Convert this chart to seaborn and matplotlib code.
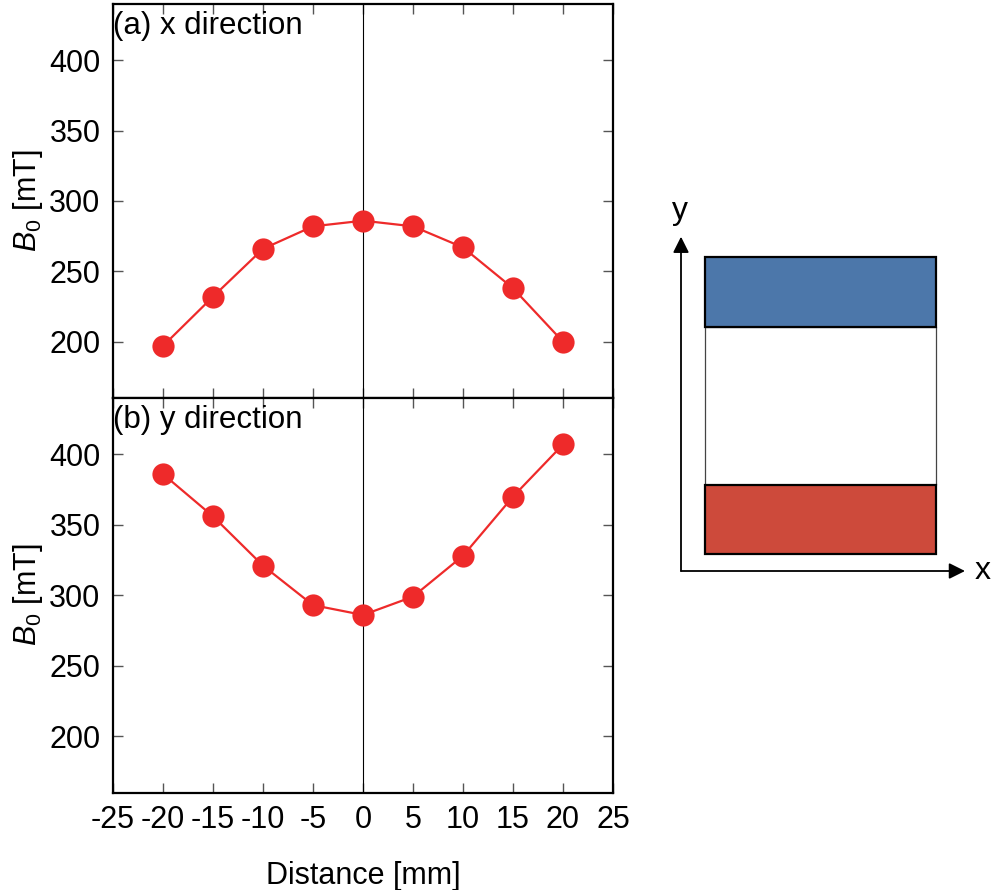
import numpy as np
import pandas as pd
import seaborn as sns
import matplotlib.pyplot as plt

# Measured field along the two directions
distance_mm = [-20, -15, -10, -5, 0, 5, 10, 15, 20]
b0_x_mT = [197, 232, 266, 282, 286, 282, 267, 238, 200]
b0_y_mT = [386, 356, 321, 293, 286, 299, 328, 370, 407]

x_ticks = [-25, -20, -15, -10, -5, 0, 5, 10, 15, 20, 25]
y_ticks = [200, 250, 300, 350, 400]
panel_titles = ["(a) x direction", "(b) y direction"]

# Magnet cross-section layers (bottom to top)
layer_heights = [69, 158, 70]
layer_colors = ["#CD4A3B", "#FFFFFF", "#4C77AA"]

sns.set_style("ticks")
plt.rcParams["font.family"] = ["Liberation Sans", "DejaVu Sans"]
plt.rcParams["mathtext.fontset"] = "custom"
plt.rcParams["mathtext.rm"] = "Liberation Sans"
plt.rcParams["mathtext.it"] = "Liberation Sans:italic"
for key in ["text.color", "axes.labelcolor", "xtick.labelcolor", "ytick.labelcolor"]:
    plt.rcParams[key] = "black"

FS = 22
RED = "#EE2A2A"

fig = plt.figure(figsize=(9.95, 8.9), dpi=100)
left, width = 113 / 995, 500 / 995
ax_top = fig.add_axes([left, 1 - 398 / 890, width, 394 / 890])
ax_bot = fig.add_axes([left, 1 - 792.5 / 890, width, 394.5 / 890], sharex=ax_top)

for ax, vals, title in [(ax_top, b0_x_mT, panel_titles[0]),
                        (ax_bot, b0_y_mT, panel_titles[1])]:
    df = pd.DataFrame({"d": distance_mm, "b": vals})
    ax.axvline(0, color="black", lw=0.8, zorder=1)
    sns.lineplot(data=df, x="d", y="b", ax=ax, color=RED, lw=1.6,
                 marker="o", markersize=16, markeredgewidth=0, zorder=3)
    ax.set_xlim(-25, 25)
    ax.set_ylim(160, 440)
    ax.set_xticks(x_ticks)
    ax.set_yticks(y_ticks)
    ax.tick_params(direction="in", length=7.5, width=1, color="#555555",
                   labelcolor="black", top=True, right=True, labelsize=FS, pad=9)
    for sp in ax.spines.values():
        sp.set_linewidth(1.6)
        sp.set_color("black")
    ax.set_ylabel(r"$B_0$ [mT]", fontsize=FS, labelpad=3, color="black")
    ax.set_xlabel("")
    ax.annotate(title, xy=(0, 1), xycoords="axes fraction", xytext=(0, -5),
                textcoords="offset points", ha="left", va="top", fontsize=FS + 0.5,
                color="black")

ax_top.tick_params(labelbottom=False)
ax_bot.set_xticklabels([str(t) for t in x_ticks])
ax_bot.set_xlabel("Distance [mm]", fontsize=FS, labelpad=19, color="black")

# Schematic of the magnet with coordinate axes
ax_s = fig.add_axes([681 / 995, 1 - 571 / 890, 284 / 995, 334.3 / 890])
ax_s.set_xlim(0, 284)
ax_s.set_ylim(0, 334.3)
ax_s.axis("off")
bottoms = np.concatenate([[16.7], 16.7 + np.cumsum(layer_heights)[:-1]])
for h, b, c in zip(layer_heights, bottoms, layer_colors):
    edge_lw = 0.9 if c == "#FFFFFF" else 1.6
    edge_c = "#444444" if c == "#FFFFFF" else "black"
    ax_s.bar(139.5, h, bottom=b, width=231, color=c, edgecolor=edge_c,
             linewidth=edge_lw, zorder=2 if c == "#FFFFFF" else 3)
arrow = dict(arrowstyle="-|>", lw=1.3, color="black", mutation_scale=24,
             shrinkA=0, shrinkB=0)
ax_s.annotate("", xy=(1, 0), xytext=(0, 0), xycoords="axes fraction",
              textcoords="axes fraction", arrowprops=arrow, annotation_clip=False)
ax_s.annotate("", xy=(0, 1), xytext=(0, 0), xycoords="axes fraction",
              textcoords="axes fraction", arrowprops=arrow, annotation_clip=False)
fig.text(983 / 995, 1 - 571 / 890, "x", fontsize=23, ha="center", va="center")
fig.text(680 / 995, 1 - 211 / 890, "y", fontsize=23, ha="center", va="center")

fig.savefig("out.png", dpi=100)
